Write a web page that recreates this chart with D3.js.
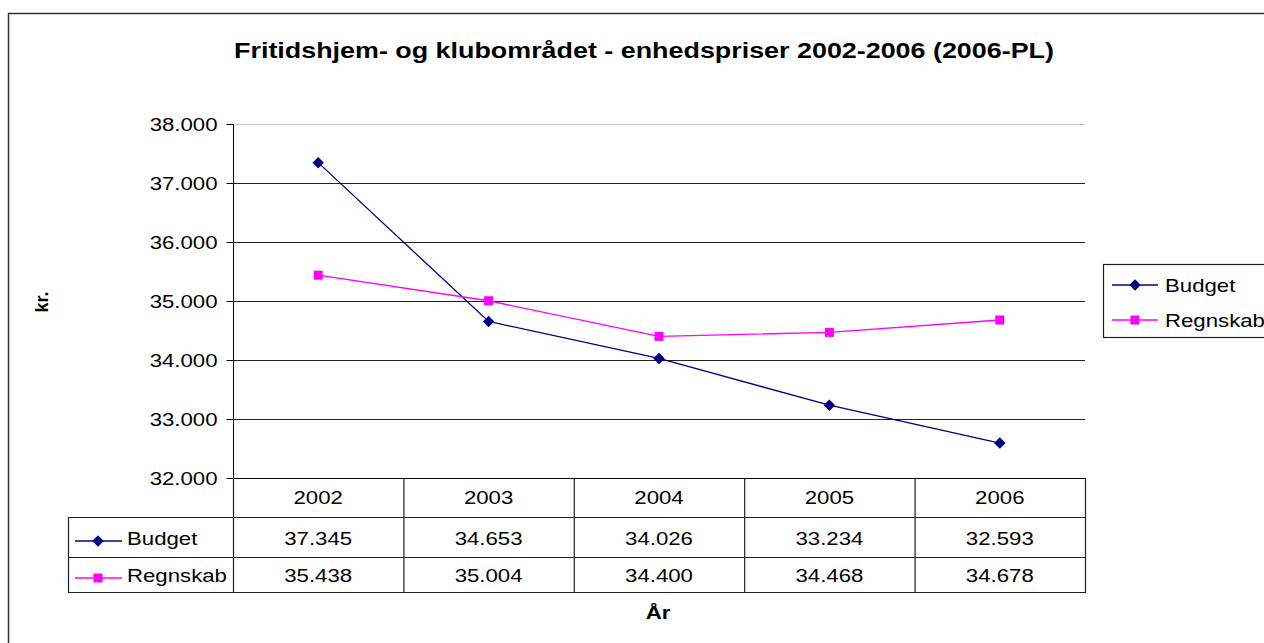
<!DOCTYPE html>
<html><head><meta charset="utf-8">
<script src="https://cdn.jsdelivr.net/npm/d3@7"></script>
<style>body{margin:0;background:#fff}svg{display:block;font-family:"Liberation Sans",Arial,sans-serif}</style>
</head><body>
<svg id="c" width="1264" height="643"></svg>
<script>
const years = ["2002","2003","2004","2005","2006"];
const budget = [37345, 34653, 34026, 33234, 32593];
const regnskab = [35438, 35004, 34400, 34468, 34678];
const yTicks = [32000, 33000, 34000, 35000, 36000, 37000, 38000];
const seriesNames = ["Budget", "Regnskab"];
const titleText = "Fritidshjem- og klubområdet - enhedspriser 2002-2006 (2006-PL)";
const yLabel = "kr.";
const xLabel = "År";

const colors = {Budget: "#000080", Regnskab: "#ff00ff"};
const series = [{name: seriesNames[0], values: budget}, {name: seriesNames[1], values: regnskab}];

const loc = d3.formatLocale({decimal: ",", thousands: ".", grouping: [3], currency: ["", ""]});
const fmt = loc.format(",.0f");

const SX = 1.2; // horizontal stretch of the reference's text
const FS = 18.5;
const svg = d3.select("#c");
function label(parent, x, y, txt, opts = {}) {
  const g = parent.append("g").attr("transform", `translate(${x},${y}) scale(${SX},1)`);
  return g.append("text").attr("x", 0).attr("y", 0)
    .attr("text-anchor", opts.anchor || "start")
    .attr("font-size", opts.size || FS)
    .attr("font-weight", opts.bold ? "bold" : "normal")
    .attr("fill", "#000").text(txt);
}

const L = 233, R = 1085, T = 124, B = 478;
const x = d3.scaleBand().domain(years).range([L, R]);
const y = d3.scaleLinear().domain([32000, 38000]).range([B, T]);
const cx = d => x(d) + x.bandwidth() / 2;

// outer border
svg.append("rect").attr("x", 8.5).attr("y", 13.5).attr("width", 1270).attr("height", 700)
  .attr("fill", "#fff").attr("stroke", "#333").attr("stroke-width", 1.5);

// title
label(svg, 644, 58, titleText, {anchor: "middle", size: 22.4, bold: true});

// gridlines
svg.append("g").selectAll("line").data(yTicks).join("line")
  .attr("x1", L).attr("x2", R).attr("y1", d => Math.round(y(d)) + 0.5).attr("y2", d => Math.round(y(d)) + 0.5)
  .attr("stroke", d => d === 38000 ? "#c8c8c8" : d === 32000 ? "#000" : "#222").attr("stroke-width", 1);

// y axis
const yAxis = d3.axisLeft(y).tickValues(yTicks).tickFormat(fmt).tickSize(7).tickPadding(9);
const ga = svg.append("g").attr("transform", `translate(${L + 0.5},0)`).call(yAxis);
ga.select(".domain").attr("stroke", "#000").attr("d", `M0,${T}V${B}`);
ga.selectAll(".tick line").attr("stroke", "#000");
ga.selectAll(".tick text").each(function() {
  d3.select(this).attr("font-size", FS).attr("fill", "#000").attr("font-family", "Liberation Sans, Arial, sans-serif")
   .attr("dy", "0.36em").attr("transform", `translate(-16,0) scale(${SX},1)`).attr("x", 0);
});

// lines & markers
const line = d3.line().x((d, i) => cx(years[i])).y(d => y(d));
series.forEach(s => {
  svg.append("path").datum(s.values).attr("d", line).attr("fill", "none")
    .attr("stroke", colors[s.name]).attr("stroke-width", 1.3);
});
const diamond = d3.symbol().type(d3.symbolDiamond2).size(84);
function marker(g, name, mx, my) {
  if (name === "Budget") {
    g.append("path").attr("d", diamond()).attr("transform", `translate(${mx},${my})`)
      .attr("fill", colors[name]);
  } else {
    g.append("rect").attr("x", mx - 4.5).attr("y", my - 4.5).attr("width", 9).attr("height", 9)
      .attr("fill", colors[name]);
  }
}
const mg = svg.append("g");
series.forEach(s => s.values.forEach((v, i) => marker(mg, s.name, cx(years[i]), y(v))));

// data table
const rowY = [478, 517, 557, 592];
const tL = 68;
const tg = svg.append("g").attr("stroke", "#222").attr("stroke-width", 1.2).attr("fill", "none");
const colEdges = [L].concat(years.map(d => x(d) + x.bandwidth()));
colEdges.forEach(ex => tg.append("line").attr("x1", ex + 0.5).attr("x2", ex + 0.5).attr("y1", rowY[0]).attr("y2", rowY[3]));
tg.append("line").attr("x1", tL + 0.5).attr("x2", tL + 0.5).attr("y1", rowY[1]).attr("y2", rowY[3]);
[1, 2, 3].forEach(r => tg.append("line").attr("x1", tL).attr("x2", R + 1).attr("y1", rowY[r] + 0.5).attr("y2", rowY[r] + 0.5));

years.forEach(yr => label(svg, cx(yr), 504, yr, {anchor: "middle"}));
const rowBase = [545, 582];
const rowLine = [541, 578];
series.forEach((s, si) => {
  s.values.forEach((v, i) => label(svg, cx(years[i]), rowBase[si], fmt(v), {anchor: "middle"}));
  svg.append("line").attr("x1", 75).attr("x2", 122).attr("y1", rowLine[si]).attr("y2", rowLine[si])
    .attr("stroke", colors[s.name]).attr("stroke-width", 1.3);
  marker(svg, s.name, 98, rowLine[si]);
  label(svg, 127, rowBase[si], s.name);
});

// legend
svg.append("rect").attr("x", 1103.5).attr("y", 264.5).attr("width", 200).attr("height", 73)
  .attr("fill", "#fff").attr("stroke", "#222").attr("stroke-width", 1.2);
const legY = [285, 320];
series.forEach((s, si) => {
  const ly = legY[si];
  svg.append("line").attr("x1", 1112).attr("x2", 1158).attr("y1", ly).attr("y2", ly)
    .attr("stroke", colors[s.name]).attr("stroke-width", 1.3);
  marker(svg, s.name, 1135, ly);
  label(svg, 1165, ly + 6.5, s.name);
});

// axis titles
svg.append("text").attr("transform", "translate(48,302) rotate(-90)").attr("text-anchor", "middle")
  .attr("font-size", 18).attr("font-weight", "bold").text(yLabel);
label(svg, 658, 619, xLabel, {anchor: "middle", bold: true});
</script>
</body></html>
